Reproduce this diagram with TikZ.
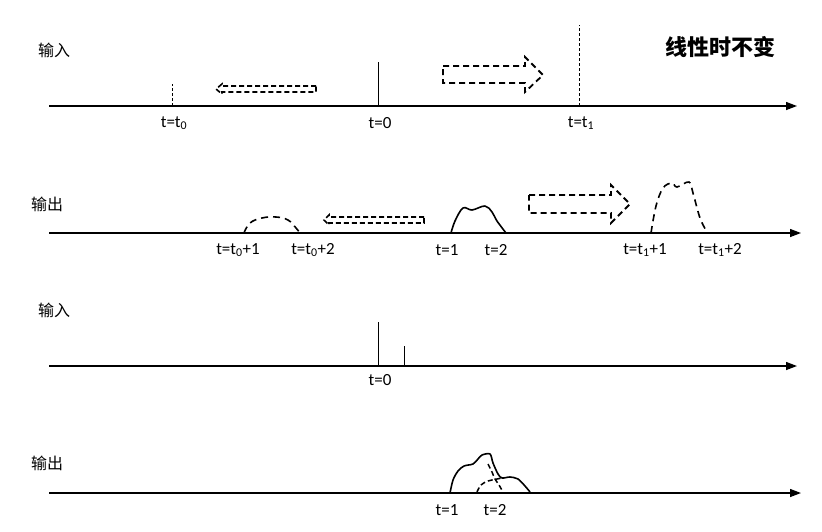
\documentclass[tikz,border=0pt]{standalone}
\usepackage{fontspec}
\setmainfont{Carlito}
\newfontfamily\cjk{Noto Sans CJK SC}
\usetikzlibrary{arrows.meta}
\tikzset{
  axis/.style={line width=1.3pt,-{Triangle[length=11pt,width=8pt]}},
  imp/.style={line width=0.9pt},
  dimp/.style={line width=0.9pt,dash pattern=on 3pt off 2pt},
  barrow/.style={line width=1.8pt,dash pattern=on 6pt off 4pt},
  sarrow/.style={line width=1.6pt,dash pattern=on 5pt off 3pt},
  solidbump/.style={line width=1.6pt,line join=round},
  dashbump/.style={line width=1.6pt,dash pattern=on 7pt off 5pt},
  lab/.style={font=\fontsize{17}{17}\selectfont,inner sep=0pt},
  cn/.style={font=\cjk\fontsize{16}{16}\selectfont,inner sep=0pt},
}
\begin{document}
\begin{tikzpicture}[x=1pt,y=-1pt]
\useasboundingbox (0,0) rectangle (822,531);
% ---------- panel 1: input ----------
\node[cn] (in1) at (54,50) {输入};
\node[font=\cjk\bfseries\fontsize{22}{22}\selectfont,inner sep=0pt] (title) at (720,47) {线性时不变};
\coordinate (a1s) at (49,106);
\coordinate (a1e) at (797,106);
\draw[axis] (a1s) -- (a1e);
\coordinate (t0b) at (172,106); \coordinate (t0t) at (172,84);
\draw[dimp] (t0b) -- (t0t);
\coordinate (z0b) at (378,106); \coordinate (z0t) at (378,62);
\draw[imp] (z0b) -- (z0t);
\coordinate (t1b) at (579,106); \coordinate (t1t) at (579,25);
\draw[dimp] (t1b) -- (t1t);
\node[lab] (lt0) at (174,123) {t=t\textsubscript{0}};
\node[lab] (lz0) at (380,123) {t=0};
\node[lab] (lt1) at (581,123) {t=t\textsubscript{1}};
\draw[sarrow] (316,86) -- (222,86) -- (222,84) -- (216,89) -- (222,94) -- (222,92) -- (316,92) -- cycle;
\draw[barrow] (443,66) -- (525,66) -- (525,57) -- (543,75) -- (525,92) -- (525,83) -- (443,83) -- cycle;
% ---------- panel 2: output ----------
\node[cn] (out1) at (47,204) {输出};
\coordinate (a2s) at (49,233);
\coordinate (a2e) at (801,233);
\draw[axis] (a2s) -- (a2e);
\draw[dashbump] plot[smooth,tension=0.7] coordinates {(244,233) (250,223) (262,218) (276,217) (288,220) (296,228) (300,233)};
\draw[sarrow] (424,217) -- (329,217) -- (329,215) -- (324,220) -- (329,225) -- (329,223) -- (424,223) -- cycle;
\draw[solidbump] plot[smooth,tension=0.6] coordinates {(451,233) (455,221) (463,208) (472,210) (485,206) (492,212) (497,221) (506,233)};
\draw[barrow] (529,195) -- (611,195) -- (611,185) -- (630,204) -- (611,223) -- (611,213) -- (529,213) -- cycle;
\draw[dashbump] plot[smooth,tension=0.6] coordinates {(651,233) (656,206) (663,188) (672,183) (677,187) (689,182) (693,193) (700,218) (707,232)};
\node[lab] (l01) at (238,250) {t=t\textsubscript{0}+1};
\node[lab] (l02) at (313,250) {t=t\textsubscript{0}+2};
\node[lab] (l1) at (447,250) {t=1};
\node[lab] (l2) at (496,250) {t=2};
\node[lab] (l11) at (645,250) {t=t\textsubscript{1}+1};
\node[lab] (l12) at (720,250) {t=t\textsubscript{1}+2};
% ---------- panel 3: input ----------
\node[cn] (in2) at (54,310) {输入};
\coordinate (a3s) at (49,366);
\coordinate (a3e) at (797,366);
\draw[axis] (a3s) -- (a3e);
\coordinate (p0b) at (378,366); \coordinate (p0t) at (378,322);
\draw[imp] (p0b) -- (p0t);
\coordinate (p1b) at (404,366); \coordinate (p1t) at (404,346);
\draw[imp] (p1b) -- (p1t);
\node[lab] (lz3) at (380,380) {t=0};
% ---------- panel 4: output ----------
\node[cn] (out2) at (47,463) {输出};
\coordinate (a4s) at (49,493);
\coordinate (a4e) at (801,493);
\draw[axis] (a4s) -- (a4e);
\draw[solidbump] plot[smooth,tension=0.5] coordinates {(450,493) (453,480) (458,471) (464,466) (473,464) (478,459) (482,455) (490,454) (493,463) (498,474) (502,478) (510,477) (518,479) (525,486) (530,492)};
\draw[line width=1.5pt,dash pattern=on 5pt off 3pt] plot[smooth,tension=0.6] coordinates {(477,492) (481,485) (488,481) (497,479) (502,478)};
\draw[line width=1.5pt,dash pattern=on 5pt off 3pt] plot[smooth,tension=0.6] coordinates {(488,464) (492,472) (495,479) (499,485) (503,492)};
\node[lab] (l41) at (447,510) {t=1};
\node[lab] (l42) at (495,510) {t=2};
\end{tikzpicture}
\end{document}
